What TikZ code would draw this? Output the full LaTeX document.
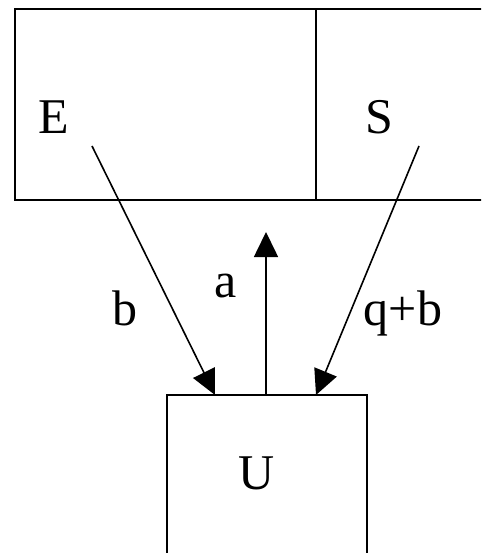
\documentclass[tikz,border=0pt]{standalone}
\usepackage{fontspec}
\setmainfont{Liberation Serif}
\usetikzlibrary{arrows.meta}
\tikzset{
  box/.style={draw, inner sep=0pt},
  lbl/.style={font=\fontsize{50}{60}\selectfont, inner sep=0pt, anchor=base},
  flow/.style={-{Triangle[width=24pt,length=25pt]}},
}
\begin{document}
\begin{tikzpicture}[x=1pt, y=-1pt, line width=1.6pt]
  \useasboundingbox (0,0) rectangle (481,553);
  \clip (0,0) rectangle (481,553);
  % upper block, two cells
  \node[box, minimum width=301pt, minimum height=191pt] (left) at (165.5,104.5) {};
  \node[box, minimum width=179pt, minimum height=191pt] (right) at (405.5,104.5) {};
  % lower block
  \node[box, minimum width=200pt, minimum height=175pt] (ubox) at (267,482.5) {};
  % labels
  \node[lbl] (E) at (54,134) {E};
  \node[lbl] (S) at (379,134) {S};
  \node[lbl] (a) at (226,297) {a};
  \node[lbl] (b) at (125,325) {b};
  \node[lbl] (qb) at (403,325) {q+b};
  \node[lbl] (U) at (257,489) {U};
  % arrow ends
  \coordinate (eTail) at (92,146);
  \coordinate (eTip) at (215,395);
  \coordinate (sTail) at (419,146);
  \coordinate (sTip) at (316,395);
  \coordinate (aTip) at (266,232);
  \draw[flow] (eTail) -- (eTip);
  \draw[flow] (sTail) -- (sTip);
  \draw[flow] (ubox.north -| aTip) -- (aTip);
\end{tikzpicture}
\end{document}
